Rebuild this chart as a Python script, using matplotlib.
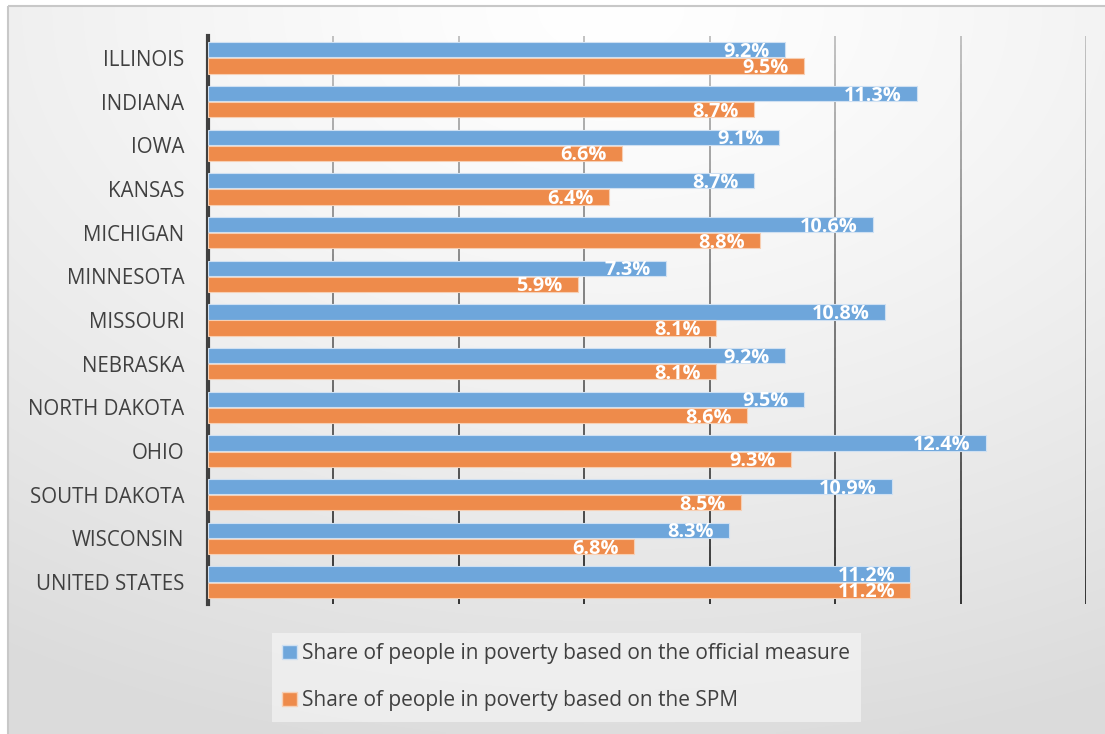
import numpy as np
import matplotlib
matplotlib.use("Agg")
from matplotlib import pyplot as plt
from matplotlib.collections import LineCollection
from matplotlib.patches import Patch, Rectangle

states = ["ILLINOIS", "INDIANA", "IOWA", "KANSAS", "MICHIGAN", "MINNESOTA", "MISSOURI",
          "NEBRASKA", "NORTH DAKOTA", "OHIO", "SOUTH DAKOTA", "WISCONSIN", "UNITED STATES"]
official = [9.2, 11.3, 9.1, 8.7, 10.6, 7.3, 10.8, 9.2, 9.5, 12.4, 10.9, 8.3, 11.2]
spm      = [9.5, 8.7, 6.6, 6.4, 8.8, 5.9, 8.1, 8.1, 8.6, 9.3, 8.5, 6.8, 11.2]
series_names = ["Share of people in poverty based on the official measure",
                "Share of people in poverty based on the SPM"]

BLUE = "#6ea6db"
ORANGE = "#ee8b4b"
W, H = 1105, 734

plt.rcParams["font.family"] = ["Open Sans", "DejaVu Sans"]

fig = plt.figure(figsize=(W / 100, H / 100), dpi=100)
fig.patch.set_facecolor("white")

# gradient backdrop of the chart area
bg = fig.add_axes([0, 0, 1, 1], zorder=-5)
bg.set_xlim(0, W); bg.set_ylim(H, 0); bg.axis("off")
gx, gy = np.meshgrid(np.linspace(0, 1, 300), np.linspace(0, 1, 200))
r = np.sqrt(((gx - 0.55) / 1.0) ** 2 + ((gy - 0.0) / 1.0) ** 2)
shade = 1.0 - 0.14 * np.clip(r / 1.05, 0, 1) ** 1.3
img = np.dstack([shade, shade, shade])
bg.imshow(img, extent=[8, W, H, 6], aspect="auto", interpolation="bilinear")
bg.add_patch(Rectangle((8, 6), W, H, fill=False, edgecolor="#c8c8c8", lw=1.5))

ax = fig.add_axes([208 / W, 1 - 604 / H, (1086 - 208) / W, (604 - 36) / H])
ax.patch.set_alpha(0)

y = np.arange(len(states))
h = 0.35
b1 = ax.barh(y - h / 2 - 0.01, official, height=h, color=BLUE, edgecolor="#cfe0f2", lw=0.8, zorder=3)
b2 = ax.barh(y + h / 2 + 0.01, spm, height=h, color=ORANGE, edgecolor="#f7cfb3", lw=0.8, zorder=3)

for bars, vals in ((b1, official), (b2, spm)):
    for rect, v in zip(bars, vals):
        ax.annotate(f"{v}%", (v, rect.get_y() + rect.get_height() / 2),
                    xytext=(-11, -1.5), textcoords="offset points",
                    ha="right", va="center", color="white", fontsize=14.3,
                    fontweight="bold", zorder=5)

ax.set_xlim(0, 14)
ax.set_ylim(len(states) - 0.5, -0.5)

# vertical gridlines fading from gray at top to black at bottom
n = 60
ts = np.linspace(0, 1, n + 1)
for xv in range(2, 16, 2):
    segs = [[(xv, len(states) - 0.5 - (len(states)) * ts[i]),
             (xv, len(states) - 0.5 - (len(states)) * ts[i + 1])] for i in range(n)]
    cols = [(0.15 + 0.6 * t,) * 3 for t in ts[:-1]]
    ax.add_collection(LineCollection(segs, colors=cols, linewidths=1.3, zorder=2))

for s in ("top", "right", "bottom"):
    ax.spines[s].set_visible(False)
ax.spines["left"].set_color("#404040")
ax.spines["left"].set_linewidth(3)
ax.set_xticks([])
ax.set_yticks(y)
ax.set_yticklabels(states, fontsize=14.8, color="#404040")
ax.tick_params(axis="y", length=0, pad=17)

handles = [Patch(facecolor=BLUE, edgecolor="#cfe0f2"), Patch(facecolor=ORANGE, edgecolor="#f7cfb3")]
leg = fig.legend(handles, series_names, loc="upper left",
                 bbox_to_anchor=(272 / W, 1 - 633 / H), frameon=True, fontsize=15,
                 labelcolor="#404040", handlelength=0.7, handleheight=0.7,
                 handletextpad=0.25, labelspacing=1.25, borderpad=0.5, borderaxespad=0,
                 fancybox=False)
leg.get_frame().set_facecolor("#f4f4f4")
leg.get_frame().set_alpha(0.7)
leg.get_frame().set_linewidth(0)

fig.savefig("out.png", dpi=100)
